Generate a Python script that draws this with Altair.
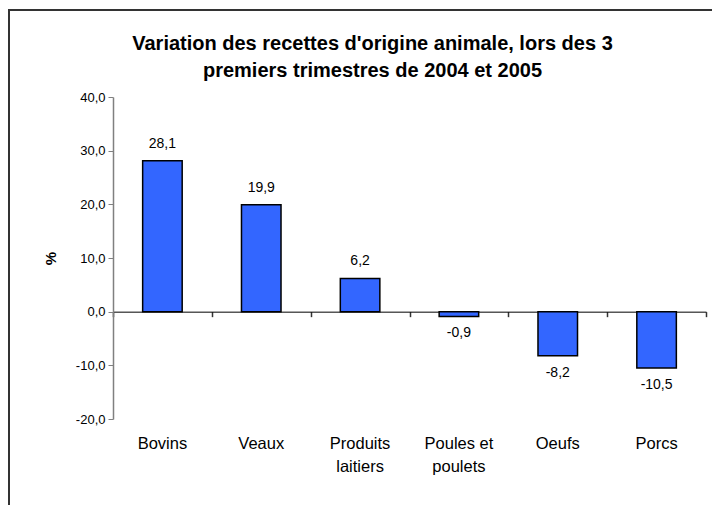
import altair as alt
import pandas as pd

categories = ["Bovins", "Veaux", "Produits laitiers", "Poules et poulets", "Oeufs", "Porcs"]
values = [28.1, 19.9, 6.2, -0.9, -8.2, -10.5]
y_ticks = [-20, -10, 0, 10, 20, 30, 40]
title_lines = ["Variation des recettes d'origine animale, lors des 3",
               "premiers trimestres de 2004 et 2005"]

df = pd.DataFrame({"cat": categories, "val": values})
df["label"] = [f"{v:.1f}".replace(".", ",") for v in values]

W, H = 593, 322
FONT = "Liberation Sans"

xscale = alt.Scale(domain=categories, paddingInner=0.6, paddingOuter=0.3)
xscale_full = alt.Scale(domain=categories, paddingInner=0, paddingOuter=0)
yscale = alt.Scale(domain=[-20, 40], nice=False, zero=False)

label_expr_x = ("datum.label == 'Produits laitiers' ? ['Produits', 'laitiers'] : "
                "datum.label == 'Poules et poulets' ? ['Poules et', 'poulets'] : datum.label")

base = alt.Chart(df)

y_axis = alt.Axis(
    values=y_ticks, title="%", titleFontSize=15, titleFontWeight="bold", titleFont=FONT,
    titleColor="black", titleAngle=270, titleX=-55, titleY=H / 2,
    labelExpr="replace(replace(format(datum.value, '.1f'), '.', ','), '\u2212', '-')",
    labelFontSize=13, labelFont=FONT, labelColor="black", labelPadding=3,
    tickSize=5, tickColor="#808080", domainColor="#808080", domainWidth=1.5, tickWidth=1,
    grid=False,
)

bars = base.mark_bar(color="#3366FF", stroke="black", strokeWidth=1.5).encode(
    x=alt.X("cat:N", scale=xscale, sort=None, axis=alt.Axis(
        orient="bottom", title=None, domain=False, ticks=False, labelAngle=0,
        labelFontSize=16.5, labelFont=FONT, labelColor="black", labelPadding=16,
        labelLineHeight=23, labelExpr=label_expr_x, grid=False)),
    y=alt.Y("val:Q", scale=yscale, axis=y_axis),
    y2=alt.datum(0),
)

zero_offset = -H * 20 / 60
zero = base.mark_rule(opacity=0).encode(
    x=alt.X("cat:N", scale=xscale_full, sort=None, axis=alt.Axis(
        orient="bottom", offset=zero_offset, title=None, domain=True, domainColor="black",
        domainWidth=1, ticks=True, tickBand="extent", tickSize=5, tickColor="#333333",
        tickWidth=1.5, labels=False, grid=False)),
    y=alt.datum(0),
)

pos = base.mark_text(fontSize=14, font=FONT, baseline="middle", dy=-17, color="black").encode(
    x=alt.X("cat:N", scale=xscale, sort=None, axis=None),
    y=alt.Y("val:Q", scale=yscale),
    text="label:N",
).transform_filter("datum.val >= 0")

neg = base.mark_text(fontSize=14, font=FONT, baseline="middle", dy=17, color="black").encode(
    x=alt.X("cat:N", scale=xscale, sort=None, axis=None),
    y=alt.Y("val:Q", scale=yscale),
    text="label:N",
).transform_filter("datum.val < 0")

frame = alt.Chart(pd.DataFrame({"a": [0]})).mark_rect(
    fill="transparent", stroke="#333333", strokeWidth=2
).encode(x=alt.value(-104), y=alt.value(-87), x2=alt.value(700), y2=alt.value(500))

chart = alt.layer(frame, bars, zero, pos, neg).resolve_axis(x="independent").resolve_scale(
    x="independent").properties(
    width=W, height=H,
    autosize=alt.AutoSizeParams(type="none"),
    padding={"left": 105, "top": 89, "right": 6, "bottom": 86},
    title=alt.Title(title_lines, fontSize=20, fontWeight="bold", font=FONT, color="black",
                    anchor="middle", dx=-37, dy=72, offset=0, lineHeight=27, frame="group"),
).configure_view(stroke=None)

chart.save("out.html", embed_options={"renderer": "svg", "actions": False})
